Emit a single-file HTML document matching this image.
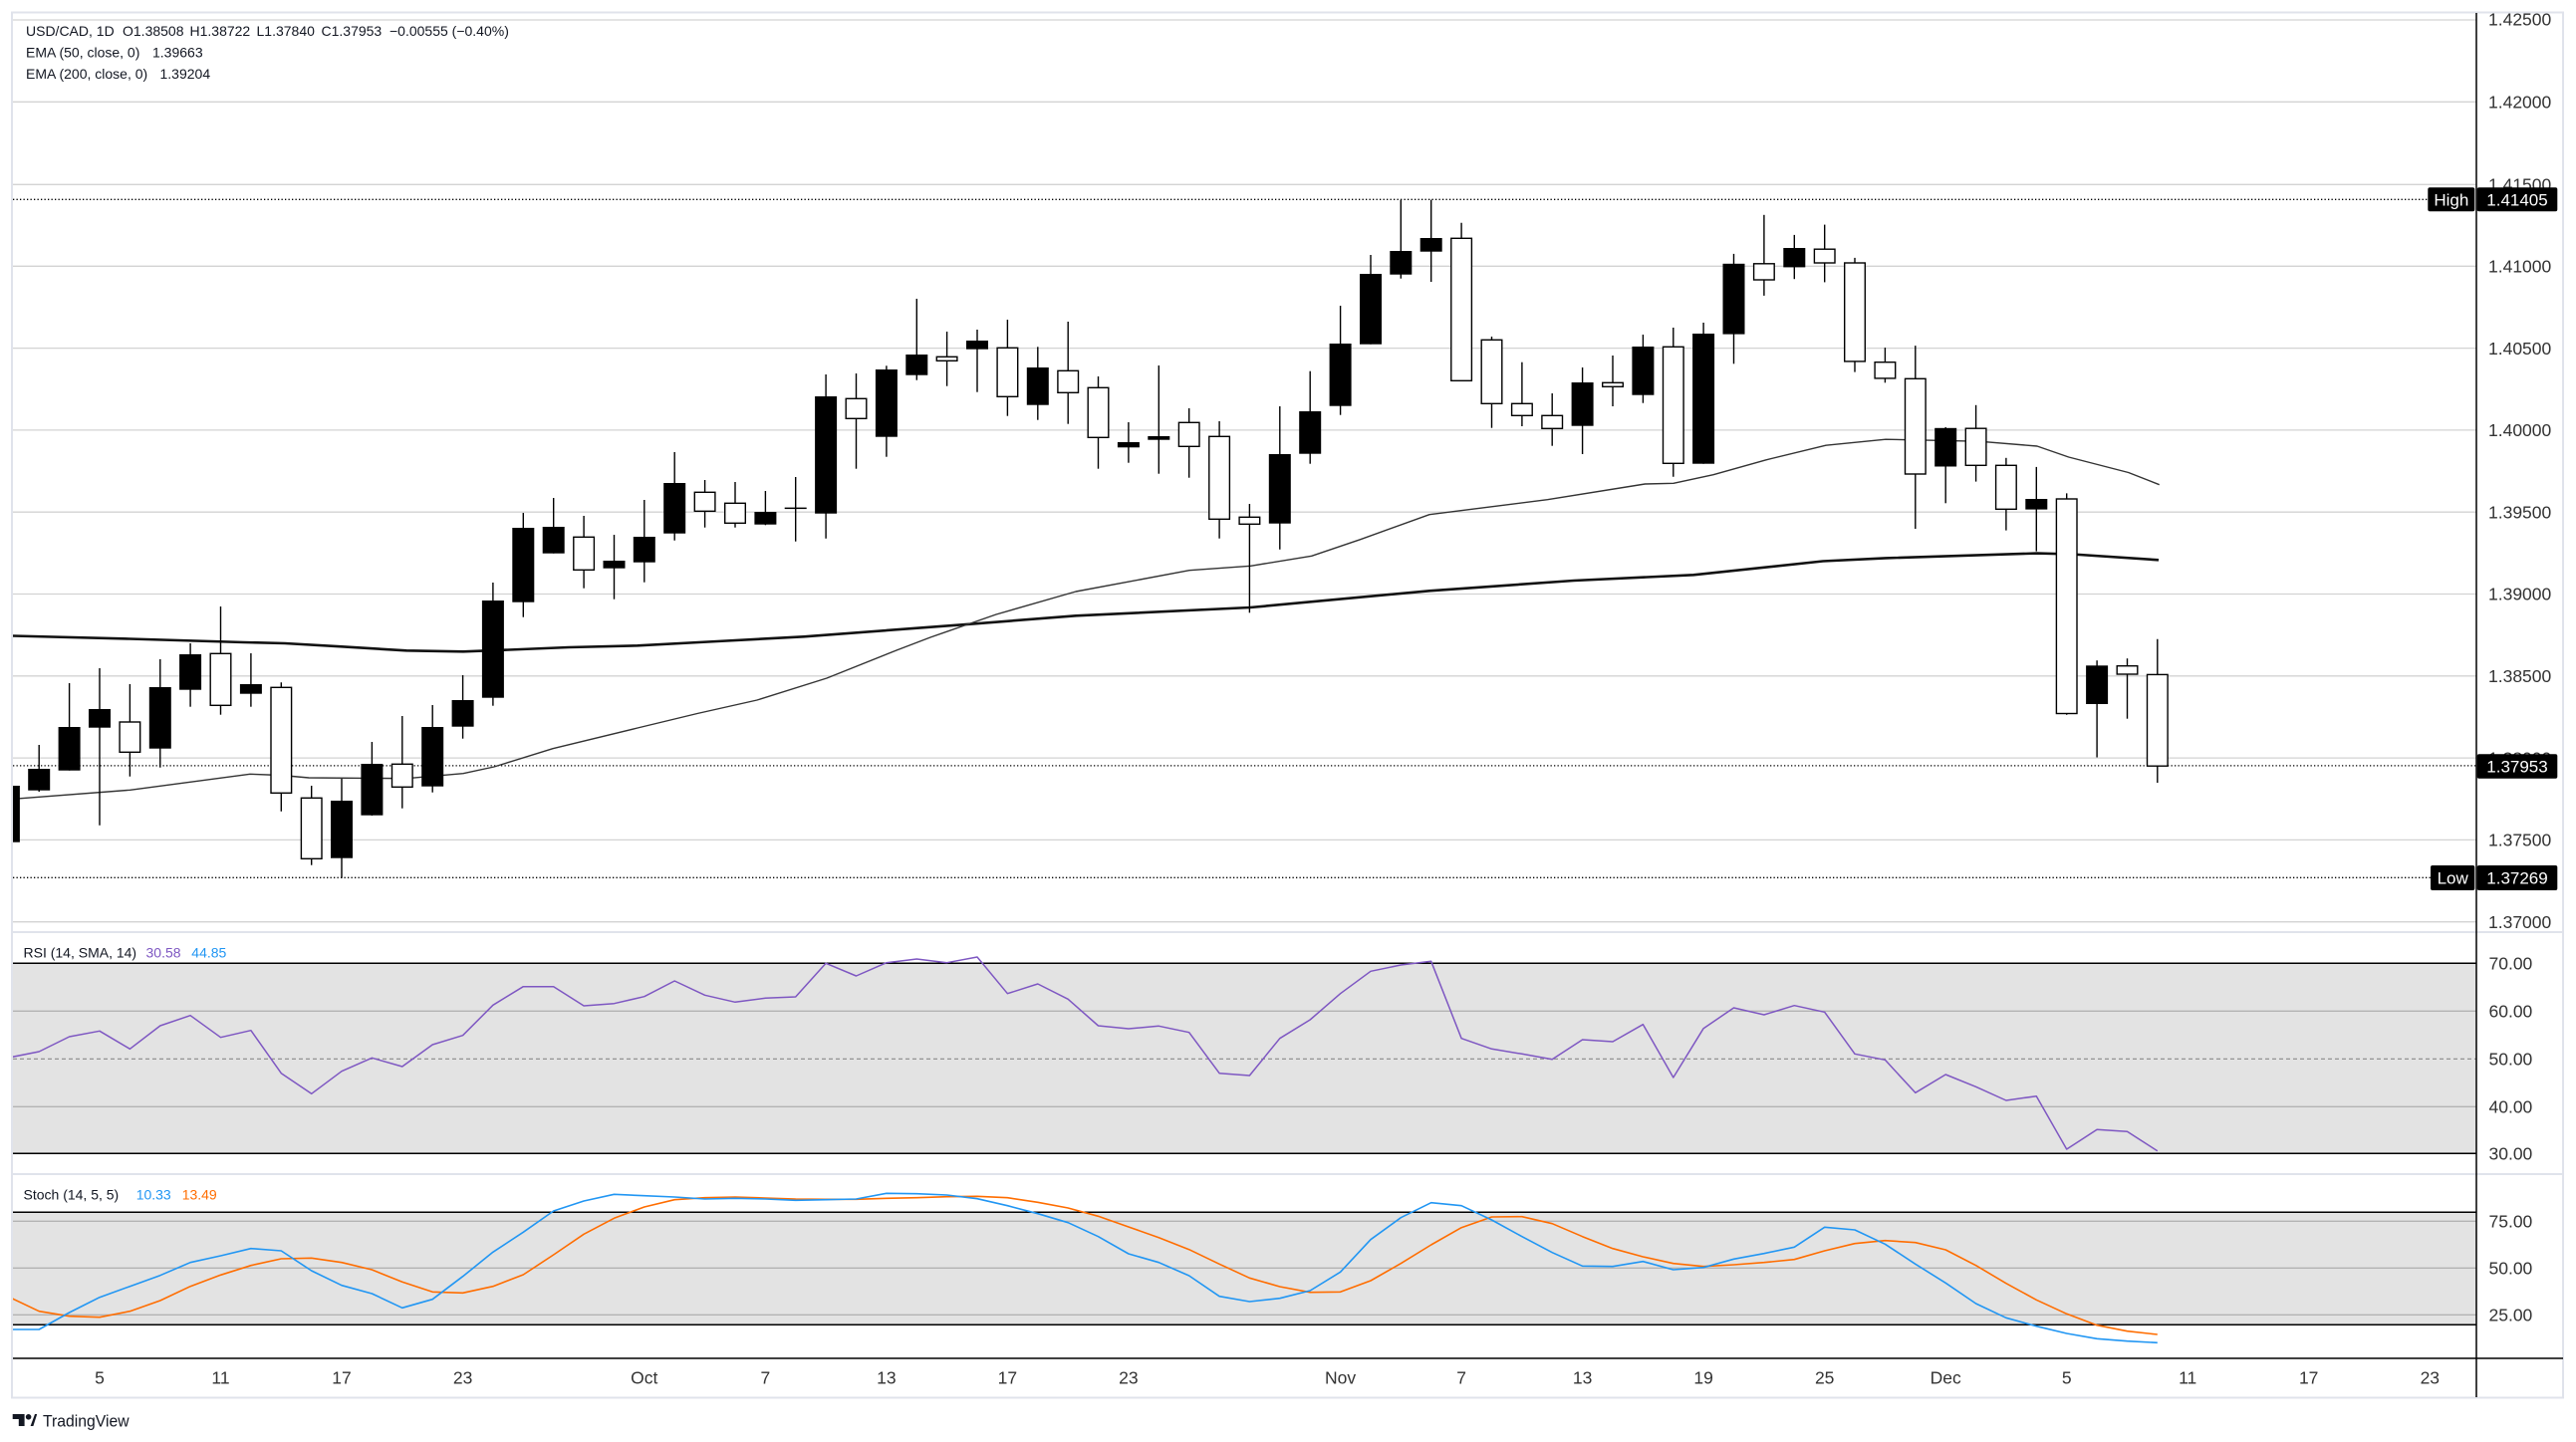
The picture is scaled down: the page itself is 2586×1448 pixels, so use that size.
<!DOCTYPE html>
<html><head><meta charset="utf-8">
<style>
html,body{margin:0;padding:0;background:#fff;}
svg{display:block;}
text{font-family:"Liberation Sans",sans-serif;}
</style></head>
<body>
<svg width="2586" height="1448" viewBox="0 0 2586 1448" xmlns="http://www.w3.org/2000/svg">
<defs>
<clipPath id="cm"><rect x="13" y="13" width="2473" height="923"/></clipPath>
<clipPath id="cr"><rect x="13" y="937" width="2473" height="242"/></clipPath>
<clipPath id="cs"><rect x="13" y="1180" width="2473" height="184"/></clipPath>
<clipPath id="ca"><rect x="2487" y="13" width="86" height="923"/></clipPath>
</defs>
<rect x="0" y="0" width="2586" height="1448" fill="#fff"/>

<!-- main gridlines -->
<g stroke="#d3d3d3" stroke-width="1.3">
<line x1="13" y1="20" x2="2486" y2="20"/>
<line x1="13" y1="102.3" x2="2486" y2="102.3"/>
<line x1="13" y1="185.3" x2="2486" y2="185.3"/>
<line x1="13" y1="267.3" x2="2486" y2="267.3"/>
<line x1="13" y1="349.6" x2="2486" y2="349.6"/>
<line x1="13" y1="431.9" x2="2486" y2="431.9"/>
<line x1="13" y1="514.2" x2="2486" y2="514.2"/>
<line x1="13" y1="596.5" x2="2486" y2="596.5"/>
<line x1="13" y1="678.8" x2="2486" y2="678.8"/>
<line x1="13" y1="761.1" x2="2486" y2="761.1"/>
<line x1="13" y1="843.4" x2="2486" y2="843.4"/>
<line x1="13" y1="925.7" x2="2486" y2="925.7"/>
</g>

<g clip-path="url(#cm)">
<!-- dotted lines -->
<g stroke="#000" stroke-width="1.3" stroke-dasharray="1.3 2.2" fill="none">
<line x1="13" y1="200.3" x2="2437" y2="200.3"/>
<line x1="13" y1="881.3" x2="2440" y2="881.3"/>
<line x1="13" y1="768.9" x2="2486" y2="768.9"/>
</g>
<!-- EMA lines -->
<polyline fill="none" stroke="#111" stroke-width="2.6" stroke-linejoin="round" points="13,638.5 130,641.5 245,645 286,646 343,649.3 408,653.3 465,654.3 506,652.7 571,650 640,648.3 720,644 807,639.3 966,627.3 1080,618.3 1255,610 1435,593.3 1580,583 1700,577.3 1830,563.5 1893,560.4 2045,555.6 2080,556.5 2167,562.3"/>
<polyline fill="none" stroke="#333" stroke-width="1.4" stroke-linejoin="round" points="13,802.3 130.6,793.3 251,777.3 282,778.5 310,781 408,781.7 465,776.7 496,770 555,751.7 640,731 700,716.5 760,703 830,681 900,653 934,640 1000,617 1080,594 1194,572.7 1255.5,568.3 1316.7,558.3 1365.7,541.7 1435,516.7 1553.5,501.7 1651.4,486 1680,485.3 1720,476.7 1773,461.8 1833,447.2 1893,441.2 1986.7,443.2 2045,448 2076.7,459 2136.7,474.5 2167.7,486.7"/>

<!-- wicks -->
<g stroke="#000" stroke-width="1.4">
<line x1="39.2" y1="748" x2="39.2" y2="795"/>
<line x1="69.6" y1="686" x2="69.6" y2="773.7"/>
<line x1="100" y1="671" x2="100" y2="828.7"/>
<line x1="130.4" y1="687" x2="130.4" y2="779.7"/>
<line x1="160.8" y1="662" x2="160.8" y2="770.7"/>
<line x1="191.1" y1="646" x2="191.1" y2="709.7"/>
<line x1="221.5" y1="609" x2="221.5" y2="717.7"/>
<line x1="251.9" y1="656" x2="251.9" y2="709.7"/>
<line x1="282.3" y1="685.3" x2="282.3" y2="814.7"/>
<line x1="312.7" y1="789" x2="312.7" y2="868.7"/>
<line x1="343" y1="782" x2="343" y2="881.7"/>
<line x1="373.4" y1="745" x2="373.4" y2="819"/>
<line x1="403.8" y1="719" x2="403.8" y2="811.7"/>
<line x1="434.2" y1="708" x2="434.2" y2="795.7"/>
<line x1="464.6" y1="678" x2="464.6" y2="741.7"/>
<line x1="494.9" y1="585" x2="494.9" y2="708.7"/>
<line x1="525.3" y1="515" x2="525.3" y2="619.7"/>
<line x1="555.7" y1="500" x2="555.7" y2="555.7"/>
<line x1="586.1" y1="518" x2="586.1" y2="590.7"/>
<line x1="616.5" y1="537" x2="616.5" y2="601.7"/>
<line x1="646.8" y1="502" x2="646.8" y2="584.7"/>
<line x1="677.2" y1="454" x2="677.2" y2="542.7"/>
<line x1="707.6" y1="482" x2="707.6" y2="529.7"/>
<line x1="738" y1="484" x2="738" y2="529.7"/>
<line x1="768.4" y1="493" x2="768.4" y2="527.3"/>
<line x1="798.7" y1="479" x2="798.7" y2="543.7"/>
<line x1="829.1" y1="376" x2="829.1" y2="540.7"/>
<line x1="859.5" y1="375" x2="859.5" y2="470.7"/>
<line x1="889.9" y1="367.3" x2="889.9" y2="458.7"/>
<line x1="920.3" y1="300" x2="920.3" y2="381.7"/>
<line x1="950.6" y1="333" x2="950.6" y2="387.7"/>
<line x1="981" y1="331" x2="981" y2="393.7"/>
<line x1="1011.4" y1="321" x2="1011.4" y2="417.7"/>
<line x1="1041.8" y1="348.3" x2="1041.8" y2="421.7"/>
<line x1="1072.2" y1="323" x2="1072.2" y2="425.7"/>
<line x1="1102.5" y1="378" x2="1102.5" y2="470.7"/>
<line x1="1132.9" y1="424" x2="1132.9" y2="464.7"/>
<line x1="1163.3" y1="367" x2="1163.3" y2="475.7"/>
<line x1="1193.7" y1="410" x2="1193.7" y2="479.7"/>
<line x1="1224.1" y1="423" x2="1224.1" y2="540.7"/>
<line x1="1254.4" y1="506" x2="1254.4" y2="615.3"/>
<line x1="1284.8" y1="408" x2="1284.8" y2="551.7"/>
<line x1="1315.2" y1="372.7" x2="1315.2" y2="465.7"/>
<line x1="1345.6" y1="307" x2="1345.6" y2="416.7"/>
<line x1="1376" y1="256" x2="1376" y2="345.7"/>
<line x1="1406.3" y1="200.7" x2="1406.3" y2="279.7"/>
<line x1="1436.7" y1="200.7" x2="1436.7" y2="283"/>
<line x1="1467.1" y1="223.7" x2="1467.1" y2="382.3"/>
<line x1="1497.5" y1="338" x2="1497.5" y2="429.7"/>
<line x1="1527.9" y1="363.7" x2="1527.9" y2="428"/>
<line x1="1558.2" y1="395" x2="1558.2" y2="447.7"/>
<line x1="1588.6" y1="369" x2="1588.6" y2="456"/>
<line x1="1619" y1="357" x2="1619" y2="408"/>
<line x1="1649.4" y1="336" x2="1649.4" y2="404.7"/>
<line x1="1679.8" y1="329" x2="1679.8" y2="478.7"/>
<line x1="1710.1" y1="324" x2="1710.1" y2="465.7"/>
<line x1="1740.5" y1="254.9" x2="1740.5" y2="365.3"/>
<line x1="1770.9" y1="215.8" x2="1770.9" y2="296.9"/>
<line x1="1801.3" y1="235.9" x2="1801.3" y2="280.2"/>
<line x1="1831.7" y1="225.6" x2="1831.7" y2="283.4"/>
<line x1="1862" y1="258.9" x2="1862" y2="373.6"/>
<line x1="1892.4" y1="349.1" x2="1892.4" y2="384.3"/>
<line x1="1922.8" y1="347.1" x2="1922.8" y2="531"/>
<line x1="1953.2" y1="429" x2="1953.2" y2="505.3"/>
<line x1="1983.6" y1="406.8" x2="1983.6" y2="483.6"/>
<line x1="2013.9" y1="459.8" x2="2013.9" y2="532.6"/>
<line x1="2044.3" y1="468.9" x2="2044.3" y2="553.6"/>
<line x1="2074.7" y1="495.4" x2="2074.7" y2="717.7"/>
<line x1="2105.1" y1="663.2" x2="2105.1" y2="760.5"/>
<line x1="2135.5" y1="661.2" x2="2135.5" y2="721.7"/>
<line x1="2165.8" y1="641.8" x2="2165.8" y2="786"/>
</g>

<!-- black bodies -->
<g fill="#000">
<rect x="-2.1" y="789" width="22" height="56.7"/>
<rect x="28.2" y="772" width="22" height="21.7"/>
<rect x="58.6" y="730" width="22" height="43.7"/>
<rect x="89" y="712" width="22" height="18.7"/>
<rect x="149.8" y="690" width="22" height="61.7"/>
<rect x="180.1" y="657" width="22" height="35.7"/>
<rect x="240.9" y="687" width="22" height="9.7"/>
<rect x="332" y="804" width="22" height="57.7"/>
<rect x="362.4" y="767" width="22" height="51.7"/>
<rect x="423.2" y="730" width="22" height="59.7"/>
<rect x="453.6" y="703" width="22" height="26.7"/>
<rect x="483.9" y="603" width="22" height="97.7"/>
<rect x="514.3" y="530" width="22" height="74.7"/>
<rect x="544.7" y="529" width="22" height="26.7"/>
<rect x="605.5" y="563" width="22" height="7.7"/>
<rect x="635.8" y="539" width="22" height="25.7"/>
<rect x="666.2" y="485" width="22" height="50.7"/>
<rect x="757.4" y="514" width="22" height="12.7"/>
<rect x="787.7" y="509.6" width="22" height="1.5"/>
<rect x="818.1" y="398" width="22" height="117.7"/>
<rect x="878.9" y="371" width="22" height="67.7"/>
<rect x="909.3" y="356" width="22" height="20.7"/>
<rect x="970" y="342" width="22" height="8.7"/>
<rect x="1030.8" y="369" width="22" height="37.7"/>
<rect x="1121.9" y="444" width="22" height="5.3"/>
<rect x="1152.3" y="438" width="22" height="3.7"/>
<rect x="1273.8" y="456" width="22" height="69.7"/>
<rect x="1304.2" y="413" width="22" height="42.7"/>
<rect x="1334.6" y="345" width="22" height="62.7"/>
<rect x="1365" y="275" width="22" height="70.7"/>
<rect x="1395.3" y="252" width="22" height="23.7"/>
<rect x="1425.7" y="239" width="22" height="13.7"/>
<rect x="1577.6" y="384" width="22" height="43.7"/>
<rect x="1638.4" y="348" width="22" height="48.7"/>
<rect x="1699.1" y="335" width="22" height="130.7"/>
<rect x="1729.5" y="264.8" width="22" height="70.8"/>
<rect x="1790.3" y="249" width="22" height="19.4"/>
<rect x="1942.2" y="429.8" width="22" height="38.7"/>
<rect x="2033.3" y="501" width="22" height="10.6"/>
<rect x="2094.1" y="668.3" width="22" height="38.7"/>
</g>

<!-- white bodies -->
<g fill="#fff" stroke="#000" stroke-width="1.4">
<rect x="120.1" y="725" width="20.6" height="30.3"/>
<rect x="211.2" y="656.3" width="20.6" height="52"/>
<rect x="272" y="690.3" width="20.6" height="106"/>
<rect x="302.4" y="801.3" width="20.6" height="61"/>
<rect x="393.5" y="767.3" width="20.6" height="23"/>
<rect x="575.8" y="539.3" width="20.6" height="33"/>
<rect x="697.3" y="494.3" width="20.6" height="19"/>
<rect x="727.7" y="505.3" width="20.6" height="20"/>
<rect x="849.2" y="400.3" width="20.6" height="20"/>
<rect x="940.3" y="358.3" width="20.6" height="4"/>
<rect x="1001.1" y="349.3" width="20.6" height="49"/>
<rect x="1061.9" y="372.3" width="20.6" height="22"/>
<rect x="1092.2" y="389.3" width="20.6" height="50"/>
<rect x="1183.4" y="424.3" width="20.6" height="24"/>
<rect x="1213.8" y="438.3" width="20.6" height="83"/>
<rect x="1244.1" y="519.3" width="20.6" height="7"/>
<rect x="1456.8" y="239.3" width="20.6" height="143"/>
<rect x="1487.2" y="341.3" width="20.6" height="64"/>
<rect x="1517.6" y="405.3" width="20.6" height="12"/>
<rect x="1547.9" y="417.3" width="20.6" height="13"/>
<rect x="1608.7" y="384.3" width="20.6" height="4"/>
<rect x="1669.5" y="348.3" width="20.6" height="117"/>
<rect x="1760.6" y="264.8" width="20.6" height="16.2"/>
<rect x="1821.4" y="250.2" width="20.6" height="13.8"/>
<rect x="1851.7" y="264" width="20.6" height="98.9"/>
<rect x="1882.1" y="363.7" width="20.6" height="16.2"/>
<rect x="1912.5" y="380.3" width="20.6" height="95.7"/>
<rect x="1973.3" y="430.2" width="20.6" height="37.1"/>
<rect x="2003.6" y="467.3" width="20.6" height="44"/>
<rect x="2064.4" y="501" width="20.6" height="215.5"/>
<rect x="2125.2" y="668.7" width="20.6" height="8.3"/>
<rect x="2155.5" y="677.4" width="20.6" height="91.8"/>
</g>
</g>

<!-- legend -->
<g font-size="14" fill="#131722">
<text x="26" y="36">USD/CAD, 1D</text>
<text x="123" y="36">O1.38508</text>
<text x="190.5" y="36">H1.38722</text>
<text x="257.5" y="36">L1.37840</text>
<text x="322.5" y="36">C1.37953</text>
<text x="391" y="36">−0.00555 (−0.40%)</text>
<text x="26" y="57.5">EMA (50, close, 0)</text>
<text x="153" y="57.5">1.39663</text>
<text x="26" y="79">EMA (200, close, 0)</text>
<text x="160.5" y="79">1.39204</text>
</g>

<!-- RSI pane -->
<rect x="13" y="967.3" width="2473" height="191" fill="#e3e3e3"/>
<g stroke="#b3b3b3" stroke-width="1.3">
<line x1="13" y1="1015.3" x2="2486" y2="1015.3"/>
<line x1="13" y1="1111.3" x2="2486" y2="1111.3"/>
</g>
<line x1="13" y1="1063.3" x2="2486" y2="1063.3" stroke="#8a8a8a" stroke-width="1.2" stroke-dasharray="4 3"/>
<g stroke="#000" stroke-width="1.5">
<line x1="13" y1="967.3" x2="2486" y2="967.3"/>
<line x1="13" y1="1158.3" x2="2486" y2="1158.3"/>
</g>
<g clip-path="url(#cr)">
<polyline fill="none" stroke="#7e57c2" stroke-width="1.5" stroke-linejoin="round" points="8.9,1062 39.2,1056 69.6,1041 100,1035.3 130.4,1053.3 160.8,1030 191.1,1019.7 221.5,1041.7 251.9,1034.7 282.3,1077.7 312.7,1098.3 343,1075.7 373.4,1062.3 403.8,1071 434.2,1049 464.6,1039.7 494.9,1009.3 525.3,990.7 555.7,990.7 586.1,1010 616.5,1007.7 646.8,1000.7 677.2,985 707.6,999.3 738,1006.3 768.4,1002.3 798.7,1001 829.1,967.3 859.5,980 889.9,966.7 920.3,963 950.6,966.7 981,961 1011.4,997.7 1041.8,988 1072.2,1003.3 1102.5,1030 1132.9,1033 1163.3,1030.3 1193.7,1036.7 1224.1,1077.7 1254.4,1080 1284.8,1042.7 1315.2,1024 1345.6,997.7 1376,975.3 1406.3,969 1436.7,965.3 1467.1,1042.7 1497.5,1053.3 1527.9,1058.3 1558.2,1063.7 1588.6,1044 1619,1046 1649.4,1028.7 1679.8,1082 1710.1,1032.7 1740.5,1012 1770.9,1019 1801.3,1009.7 1831.7,1016.3 1862,1058.3 1892.4,1064.3 1922.8,1097.3 1953.2,1079 1983.6,1091.3 2013.9,1105 2044.3,1100.7 2074.7,1154 2105.1,1134.3 2135.5,1136.3 2165.8,1155.7"/>
</g>
<g font-size="14">
<text x="23.5" y="961.7" fill="#131722">RSI (14, SMA, 14)</text>
<text x="146.5" y="961.7" fill="#7e57c2">30.58</text>
<text x="192.3" y="961.7" fill="#2196f3">44.85</text>
</g>

<!-- Stoch pane -->
<rect x="13" y="1217.3" width="2473" height="113" fill="#e3e3e3"/>
<g stroke="#b3b3b3" stroke-width="1.3">
<line x1="13" y1="1226.3" x2="2486" y2="1226.3"/>
<line x1="13" y1="1273.3" x2="2486" y2="1273.3"/>
<line x1="13" y1="1320.3" x2="2486" y2="1320.3"/>
</g>
<g stroke="#000" stroke-width="1.5">
<line x1="13" y1="1217.3" x2="2486" y2="1217.3"/>
<line x1="13" y1="1330.3" x2="2486" y2="1330.3"/>
</g>
<g clip-path="url(#cs)" fill="none" stroke-width="1.6" stroke-linejoin="round">
<polyline stroke="#ff6d00" points="8.9,1302.3 39.2,1316.7 69.6,1321.7 100,1322.7 130.4,1316.7 160.8,1306 191.1,1291.7 221.5,1280.3 251.9,1270.7 282.3,1264 312.7,1263.3 343,1267.7 373.4,1275 403.8,1287.3 434.2,1297.3 464.6,1298.3 494.9,1291.7 525.3,1280 555.7,1260 586.1,1239.3 616.5,1223.3 646.8,1212 677.2,1204.7 707.6,1202.7 738,1202 768.4,1203 798.7,1204 829.1,1204.3 859.5,1204.3 889.9,1203.3 920.3,1202.7 950.6,1201.7 981,1201.3 1011.4,1202.7 1041.8,1207.3 1072.2,1213 1102.5,1221.3 1132.9,1232 1163.3,1242.7 1193.7,1254.7 1224.1,1269.3 1254.4,1283.3 1284.8,1292 1315.2,1297.7 1345.6,1297.3 1376,1286 1406.3,1268.7 1436.7,1250 1467.1,1232.7 1497.5,1222 1527.9,1221.7 1558.2,1228.7 1588.6,1241.7 1619,1253.7 1649.4,1262 1679.8,1268.7 1710.1,1271.7 1740.5,1270 1770.9,1267.7 1801.3,1264.7 1831.7,1256 1862,1248.7 1892.4,1245.7 1922.8,1247.7 1953.2,1255 1983.6,1270.7 2013.9,1288.7 2044.3,1305.3 2074.7,1319.3 2105.1,1330.7 2135.5,1336.7 2165.8,1340"/>
<polyline stroke="#2196f3" points="8.9,1335 39.2,1335 69.6,1318 100,1302.7 130.4,1291.7 160.8,1280.7 191.1,1267.7 221.5,1261 251.9,1253.7 282.3,1256 312.7,1276 343,1290.7 373.4,1299 403.8,1313.3 434.2,1304.7 464.6,1281.7 494.9,1257.3 525.3,1237.3 555.7,1216 586.1,1206 616.5,1199.3 646.8,1200.7 677.2,1202 707.6,1204 738,1203.3 768.4,1204 798.7,1205.3 829.1,1204.7 859.5,1204 889.9,1198.3 920.3,1198.7 950.6,1200 981,1203.7 1011.4,1210.7 1041.8,1218.7 1072.2,1227.7 1102.5,1241.7 1132.9,1259 1163.3,1267.7 1193.7,1281 1224.1,1301.7 1254.4,1307 1284.8,1303.7 1315.2,1296 1345.6,1277.3 1376,1244.7 1406.3,1222.7 1436.7,1207.7 1467.1,1210.7 1497.5,1225 1527.9,1241.7 1558.2,1257.7 1588.6,1271.3 1619,1271.7 1649.4,1266.7 1679.8,1275 1710.1,1272.7 1740.5,1264.3 1770.9,1258.7 1801.3,1252.3 1831.7,1232.3 1862,1235 1892.4,1249.3 1922.8,1269.3 1953.2,1288.3 1983.6,1309 2013.9,1323.3 2044.3,1331.7 2074.7,1339 2105.1,1344.3 2135.5,1346.7 2165.8,1348.3"/>
</g>
<g font-size="14">
<text x="23.5" y="1204.3" fill="#131722">Stoch (14, 5, 5)</text>
<text x="136.7" y="1204.3" fill="#2196f3">10.33</text>
<text x="182.7" y="1204.3" fill="#ff6d00">13.49</text>
</g>

<!-- separators and frame -->
<g stroke="#e0e3eb" stroke-width="2">
<line x1="12" y1="936" x2="2573" y2="936"/>
<line x1="12" y1="1179" x2="2573" y2="1179"/>
<rect x="12" y="12.5" width="2561" height="1391" fill="none"/>
</g>
<line x1="13" y1="1364" x2="2573" y2="1364" stroke="#000" stroke-width="1.5"/>
<line x1="2486" y1="13" x2="2486" y2="1403" stroke="#000" stroke-width="1.5"/>

<!-- price axis labels -->
<g font-size="17.5" fill="#333" clip-path="url(#ca)">
<text x="2498" y="25.5">1.42500</text>
<text x="2498" y="108.5">1.42000</text>
<text x="2498" y="191.5">1.41500</text>
<text x="2498" y="273.5">1.41000</text>
<text x="2498" y="355.8">1.40500</text>
<text x="2498" y="438.1">1.40000</text>
<text x="2498" y="520.4">1.39500</text>
<text x="2498" y="602.7">1.39000</text>
<text x="2498" y="685">1.38500</text>
<text x="2498" y="767.3">1.38000</text>
<text x="2498" y="849.6">1.37500</text>
<text x="2498" y="931.9">1.37000</text>
</g>
<g font-size="17.5" fill="#333">
<text x="2498.5" y="973.5">70.00</text>
<text x="2498.5" y="1021.5">60.00</text>
<text x="2498.5" y="1069.5">50.00</text>
<text x="2498.5" y="1117.5">40.00</text>
<text x="2498.5" y="1164.5">30.00</text>
<text x="2498.5" y="1232.5">75.00</text>
<text x="2498.5" y="1279.5">50.00</text>
<text x="2498.5" y="1326.5">25.00</text>
</g>

<!-- labels boxes -->
<g fill="#000">
<rect x="2437.3" y="188.3" width="47" height="24" rx="2"/>
<rect x="2486.7" y="188.3" width="80.6" height="24" rx="2"/>
<rect x="2440" y="869" width="44.3" height="25" rx="2"/>
<rect x="2486.7" y="869" width="80.6" height="25" rx="2"/>
<rect x="2486.7" y="757.3" width="80.6" height="24.4" rx="2"/>
</g>
<g font-size="17" fill="#fff" text-anchor="middle">
<text x="2460.8" y="206.5">High</text>
<text x="2527" y="206.5">1.41405</text>
<text x="2462.2" y="887.5">Low</text>
<text x="2527" y="887.5">1.37269</text>
<text x="2527" y="775.6">1.37953</text>
</g>

<!-- time axis -->
<g font-size="17.5" fill="#333" text-anchor="middle">
<text x="100" y="1389.5">5</text>
<text x="221.5" y="1389.5">11</text>
<text x="343" y="1389.5">17</text>
<text x="464.6" y="1389.5">23</text>
<text x="646.8" y="1389.5">Oct</text>
<text x="768.4" y="1389.5">7</text>
<text x="889.9" y="1389.5">13</text>
<text x="1011.4" y="1389.5">17</text>
<text x="1132.9" y="1389.5">23</text>
<text x="1345.6" y="1389.5">Nov</text>
<text x="1467.1" y="1389.5">7</text>
<text x="1588.6" y="1389.5">13</text>
<text x="1710.1" y="1389.5">19</text>
<text x="1831.7" y="1389.5">25</text>
<text x="1953.2" y="1389.5">Dec</text>
<text x="2074.7" y="1389.5">5</text>
<text x="2196.2" y="1389.5">11</text>
<text x="2317.7" y="1389.5">17</text>
<text x="2439.3" y="1389.5">23</text>
</g>

<!-- TradingView logo -->
<g fill="#131722">
<path d="M12.7 1420 H24.6 V1432 H18.8 V1425 H12.7 Z"/>
<circle cx="28.6" cy="1422.8" r="2.8"/>
<path d="M30.6 1432 L35 1420 H37.2 L33.4 1432 Z"/>
<text x="43" y="1432.5" font-size="16.5" textLength="86.6" lengthAdjust="spacingAndGlyphs">TradingView</text>
</g>
</svg>
</body></html>
